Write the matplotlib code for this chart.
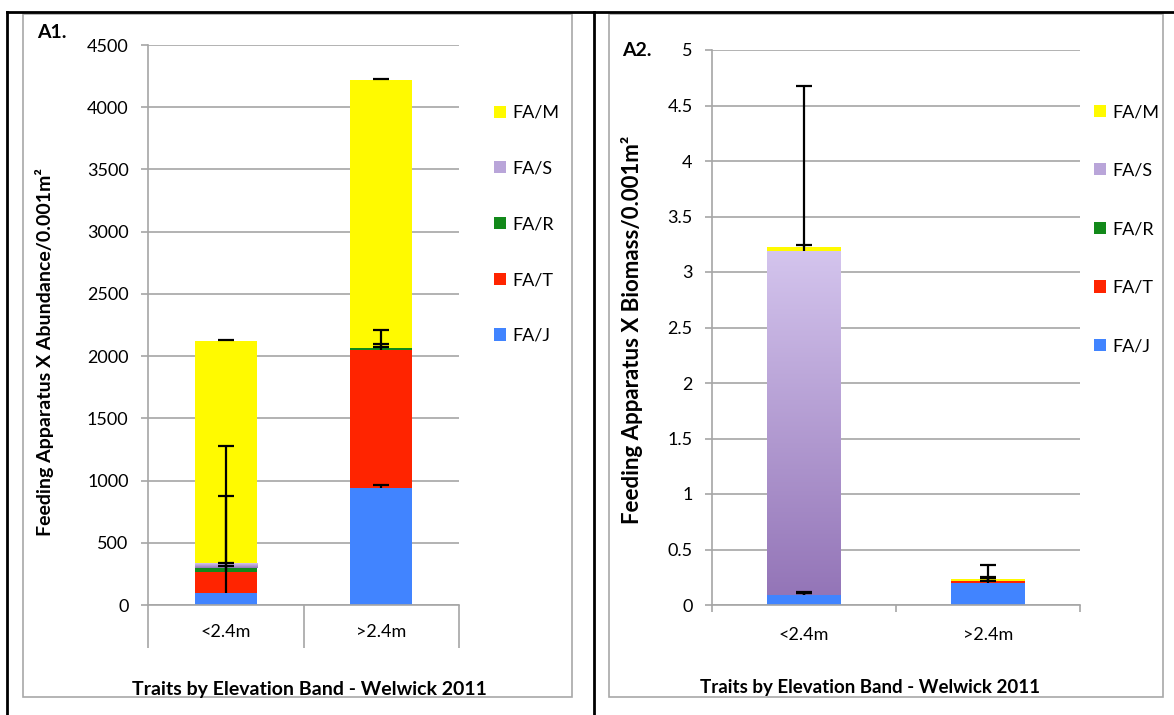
import numpy as np
import matplotlib
matplotlib.use("Agg")
import matplotlib.pyplot as plt
from matplotlib.patches import Rectangle, Patch
from matplotlib.lines import Line2D

plt.rcParams['font.family'] = ['Lato', 'DejaVu Sans']

W, H = 1174, 715

categories = ['<2.4m', '>2.4m']
series = ['FA/J', 'FA/T', 'FA/R', 'FA/S', 'FA/M']
colors = {'FA/J': '#4184FF', 'FA/T': '#FF2400', 'FA/R': '#12891A',
          'FA/S': '#B9A5D9', 'FA/M': '#FFFA00'}

# A1 - abundance
abund = {'FA/J': [96, 940], 'FA/T': [170, 1110], 'FA/R': [34, 16],
         'FA/S': [37, 0], 'FA/M': [1788, 2154]}
abund_err = {'FA/J': [214, 25], 'FA/T': [610, 24], 'FA/R': [35, 32],
             'FA/S': [941, 144], 'FA/M': [4, 4]}

# A2 - biomass
biomass = {'FA/J': [0.09, 0.20], 'FA/T': [0.0, 0.012], 'FA/R': [0.0, 0.003],
           'FA/S': [3.10, 0.0], 'FA/M': [0.035, 0.02]}
biomass_err = {'FA/J': [0.02, 0.04], 'FA/T': [0.028, 0.038], 'FA/R': [0.02, 0.0],
               'FA/S': [1.49, 0.145], 'FA/M': [0.015, 0.005]}

grad_top, grad_bot = np.array([0.83, 0.77, 0.93]), np.array([0.58, 0.46, 0.72])


def fx(px):
    return px / W


def fy(py):
    return 1 - py / H


def draw_chart(ax, data, err, ymax, ystep, xtick_len, xpad):
    x = np.arange(len(categories)) + 0.5
    bottom = np.zeros(len(categories))
    tops = {}
    for s in series:
        vals = np.array(data[s], dtype=float)
        bars = ax.bar(x, vals, 0.4, bottom=bottom, color=colors[s], zorder=2,
                      linewidth=0)
        if s == 'FA/S':
            # lavender gradient like the original fill
            grad = np.linspace(0, 1, 100)[:, None, None]
            img = grad_top * (1 - grad) + grad_bot * grad
            for b in bars:
                if b.get_height() <= 0:
                    continue
                im = ax.imshow(img, extent=[b.get_x(), b.get_x() + b.get_width(),
                                            b.get_y(), b.get_y() + b.get_height()],
                               aspect='auto', zorder=2.5, interpolation='bilinear')
                im.set_clip_path(b)
        bottom = bottom + vals
        tops[s] = bottom.copy()
    for s in series:
        e = np.array(err[s], dtype=float)
        eb = ax.errorbar(x, tops[s], yerr=[np.zeros_like(e), e], fmt='none',
                         ecolor='black', elinewidth=1.6, capsize=6,
                         capthick=1.6, zorder=5)
        eb[1][0].set_visible(False)
    ax.set_xlim(0, len(categories))
    ax.set_ylim(0, ymax)
    ax.set_yticks(np.arange(0, ymax + ystep / 2, ystep))
    ax.set_yticklabels(['%g' % v for v in np.arange(0, ymax + ystep / 2, ystep)])
    ax.yaxis.grid(True, color='#A6A6A6', linewidth=1.2, zorder=0)
    ax.set_axisbelow(True)
    ax.set_xticks([0, 1, 2])
    ax.set_xticklabels([])
    ax.set_xticks(x, minor=True)
    ax.set_xticklabels(categories, minor=True, fontsize=13)
    ax.tick_params(axis='x', which='major', length=xtick_len, width=1.2,
                   color='#A6A6A6')
    ax.tick_params(axis='x', which='minor', length=0, pad=xpad)
    ax.tick_params(axis='y', length=5, width=1.2, color='#A6A6A6', pad=9,
                   labelsize=13)
    for side in ['top', 'right']:
        ax.spines[side].set_visible(False)
    for side in ['left', 'bottom']:
        ax.spines[side].set_color('#A6A6A6')
        ax.spines[side].set_linewidth(1.2)


fig = plt.figure(figsize=(W / 100, H / 100), dpi=100)

# frame lines and chart boxes
for (x0, y0, x1, y1) in [(7, 12, W, 12), (7, 12, 7, H), (594, 12, 594, H)]:
    fig.add_artist(Line2D([fx(x0), fx(x1)], [fy(y0), fy(y1)], color='black',
                          linewidth=2))
for (x0, y0, x1, y1) in [(23, 14, 572, 697), (609, 14, 1163, 697)]:
    fig.add_artist(Rectangle((fx(x0), fy(y1)), fx(x1) - fx(x0), fy(y0) - fy(y1),
                             fill=False, edgecolor='#A8A8A8', linewidth=1.2))

ax1 = fig.add_axes([fx(148), fy(605), fx(459) - fx(148), fy(45) - fy(605)])
draw_chart(ax1, abund, abund_err, 4500, 500, 31, 14)

ax2 = fig.add_axes([fx(712), fy(605), fx(1080) - fx(712), fy(50) - fy(605)])
draw_chart(ax2, biomass, biomass_err, 5, 0.5, 5, 16)

handles = [Patch(facecolor=colors[s], edgecolor='none', label=s)
           for s in series[::-1]]
for ax, (lx, ly), sp in [(ax1, (494, 105), 2.2), (ax2, (1094, 104), 2.36)]:
    ax.legend(handles=handles, loc='upper left', bbox_to_anchor=(fx(lx), fy(ly)),
              bbox_transform=fig.transFigure, frameon=False, fontsize=13,
              handlelength=0.66, handleheight=0.66, handletextpad=0.35,
              labelspacing=sp, borderpad=0, borderaxespad=0)

fig.text(fx(37), fy(33), 'A1.', fontsize=14, fontweight='bold', va='center')
fig.text(fx(622), fy(50), 'A2.', fontsize=14, fontweight='bold', va='center')
fig.text(fx(45), fy(352), 'Feeding Apparatus X Abundance/0.001m²', fontsize=14,
         fontweight='bold', rotation=90, ha='center', va='center')
fig.text(fx(632), fy(330), 'Feeding Apparatus X Biomass/0.001m²', fontsize=16,
         fontweight='bold', rotation=90, ha='center', va='center')
fig.text(fx(309), fy(690), 'Traits by Elevation Band - Welwick 2011', fontsize=14,
         fontweight='bold', ha='center', va='center')
fig.text(fx(870), fy(687), 'Traits by Elevation Band - Welwick 2011', fontsize=13.5,
         fontweight='bold', ha='center', va='center')

fig.savefig('out.png', dpi=100)
